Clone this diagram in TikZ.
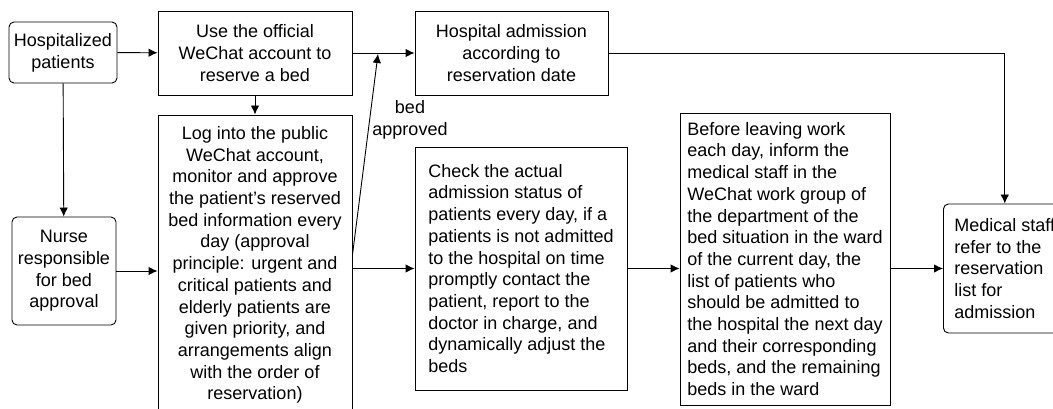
\documentclass[tikz,border=0pt]{standalone}
\usepackage{fontspec}
\setmainfont{Liberation Sans}
\usetikzlibrary{arrows.meta}

\tikzset{
    box/.style={draw,line width=.9pt,inner sep=2pt,align=center,font=\fontsize{18}{21.7}\selectfont},
    rbox/.style={box,rounded corners=5pt},
    lbox/.style={box,align=left},
}

\begin{document}
\begin{tikzpicture}[x=1pt,y=-1pt,>={Latex[length=9pt,width=8.5pt]},line width=.9pt]
        \useasboundingbox (0,0) rectangle (1053,409);
        \fill[white] (0,0) rectangle (1053,409);
        \clip (0,0) rectangle (1053,409);
        % top row
        \node[rbox,minimum width=108pt,minimum height=61pt] (hosp) at (63,52.5) {Hospitalized\\patients};
        \node[box,minimum width=194pt,minimum height=84pt] (use) at (255,53) {Use the official\\WeChat account to\\reserve a bed};
        \node[box,minimum width=193pt,minimum height=84pt] (adm) at (511.5,53) {Hospital admission\\according to\\reservation date};
        % second row
        \node[rbox,minimum width=104pt,minimum height=108pt] (nurse) at (64,271) {Nurse\\responsible\\for bed\\approval};
        \node[box,minimum width=194pt,minimum height=300pt] (log) at (255,265) {Log into the public\\WeChat account,\\monitor and approve\\the patient’s reserved\\bed information every\\day (approval\\principle: urgent and\\critical patients and\\elderly patients are\\given priority, and\\arrangements align\\with the order of\\reservation)};
        \node[lbox,minimum width=212pt,minimum height=243pt] (check) at (521,268.5) {Check the actual\\admission status of\\patients every day, if a\\patients is not admitted\\to the hospital on time\\promptly contact the\\patient, report to the\\doctor in charge, and\\dynamically adjust the\\beds};
        \node[lbox,minimum width=210pt,minimum height=292pt] (before) at (785,259) {Before leaving work\\each day, inform the\\medical staff in the\\WeChat work group of\\the department of the\\bed situation in the ward\\of the current day, the\\list of patients who\\should be admitted to\\the hospital the next day\\and their corresponding\\beds, and the remaining\\beds in the ward};
        \node[lbox,rbox,align=left,inner xsep=11pt,minimum height=129pt,anchor=west] (med) at (943,268.5) {Medical staff\\refer to the\\reservation\\list for\\admission};
        \node[align=center,font=\fontsize{18}{21.7}\selectfont,inner sep=0pt] (appr) at (410,120) {bed\\approved};
        \coordinate (apv) at (378,54);
        % connectors
        \draw[->] (hosp) -- (use);
        \draw[->] (hosp) -- (nurse);
        \draw[->] (use) -- (log);
        \draw[->] (use) -- (adm);
        \draw[->] ([yshift=10pt]log.east) -- (apv);
        \draw[->] (nurse.east) -- (nurse.east -| log.west);
        \draw[->] (check.west -| log.east) -- (check.west);
        \draw[->] (check.east) -- (before.west |- check.east);
        \draw[->] (before.east |- med.west) -- (med.west);
        \draw[->] (adm.east) -| (med.north);
    \end{tikzpicture}
\end{document}
